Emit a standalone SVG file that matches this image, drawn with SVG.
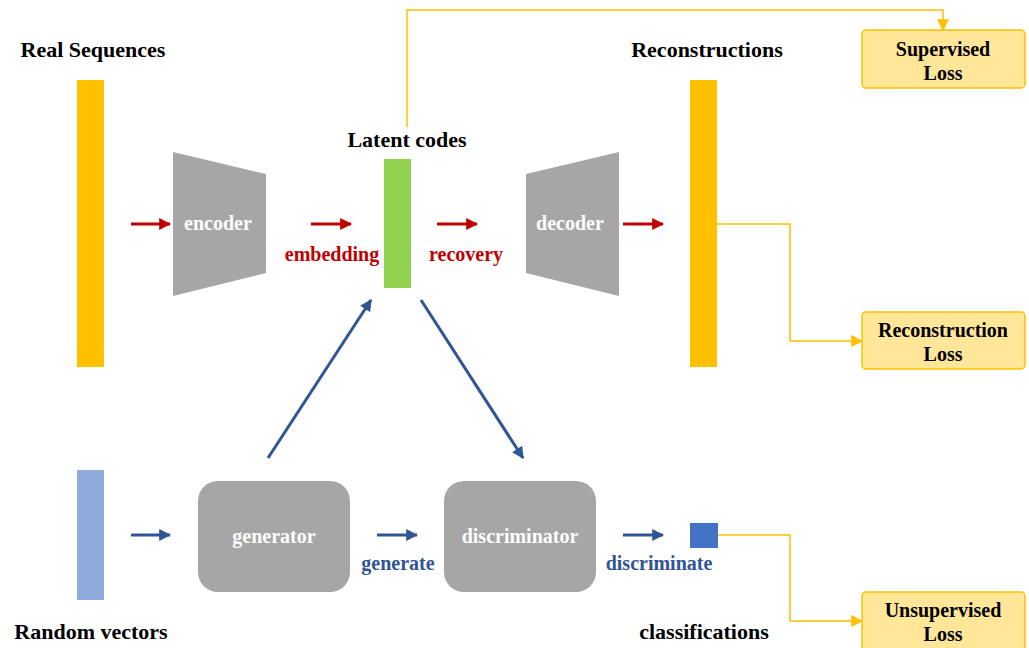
<svg xmlns="http://www.w3.org/2000/svg" width="1029" height="648" viewBox="0 0 1029 648">
<style>
text{font-family:"Liberation Serif","Times New Roman",serif;font-weight:bold;text-anchor:middle}
.title{font-size:22px;fill:#000}
.inner{font-size:20px;fill:#fff}
.red{font-size:20px;fill:#C00000}
.blue{font-size:20px;fill:#2F5597}
.loss{font-size:20px;fill:#000}
.ra{stroke:#C00000;stroke-width:3;fill:none}
.ba{stroke:#2F5597;stroke-width:3;fill:none}
.yl{stroke:#FFC000;stroke-width:1.5;fill:none}
.box{fill:#FFE699;stroke:#FFC000;stroke-width:1.5}
.gray{fill:#A6A6A6}
</style>
<defs>
<marker id="mr" viewBox="0 0 10 10" refX="9" refY="5" markerWidth="4" markerHeight="4" orient="auto" markerUnits="strokeWidth"><path d="M0,0 L10,5 L0,10 z" fill="#C00000"/></marker>
<marker id="mb" viewBox="0 0 10 10" refX="9" refY="5" markerWidth="4" markerHeight="4" orient="auto" markerUnits="strokeWidth"><path d="M0,0 L10,5 L0,10 z" fill="#2F5597"/></marker>
<marker id="my" viewBox="0 0 10 10" refX="9" refY="5" markerWidth="8" markerHeight="8" orient="auto" markerUnits="strokeWidth"><path d="M0,0 L10,5 L0,10 z" fill="#FFC000"/></marker>
</defs>
<rect width="1029" height="648" fill="#fff"/>

<g id="real-sequences">
<rect x="77" y="80" width="27" height="287" fill="#FFC000"/>
<text class="title" x="93" y="57">Real Sequences</text>
</g>
<g id="encoder">
<polygon class="gray" points="173,152 266,174 266,273 173,296"/>
<text class="inner" x="218" y="230">encoder</text>
</g>
<g id="latent-codes">
<rect x="384" y="159" width="27" height="129" fill="#92D050"/>
<text class="title" x="407" y="147">Latent codes</text>
</g>
<g id="decoder">
<polygon class="gray" points="526,174 619,152 619,296 526,273"/>
<text class="inner" x="570" y="230">decoder</text>
</g>
<g id="reconstructions">
<rect x="690" y="80" width="27" height="287" fill="#FFC000"/>
<text class="title" x="707" y="57">Reconstructions</text>
</g>
<g id="supervised-loss">
<rect class="box" x="862" y="30" width="163" height="58" rx="4"/>
<text class="loss" x="943" y="56">Supervised</text>
<text class="loss" x="943" y="80">Loss</text>
</g>
<g id="reconstruction-loss">
<rect class="box" x="862" y="312" width="163" height="57" rx="4"/>
<text class="loss" x="943" y="337">Reconstruction</text>
<text class="loss" x="943" y="361">Loss</text>
</g>
<g id="random-vectors">
<rect x="77" y="470" width="27" height="130" fill="#8FAADC"/>
<text class="title" x="91" y="639">Random vectors</text>
</g>
<g id="generator">
<rect class="gray" x="198" y="481" width="152" height="111" rx="20"/>
<text class="inner" x="274" y="543">generator</text>
</g>
<g id="discriminator">
<rect class="gray" x="444" y="481" width="152" height="111" rx="20"/>
<text class="inner" x="520" y="543">discriminator</text>
</g>
<g id="classifications">
<rect x="690" y="523" width="28" height="25" fill="#4472C4"/>
<text class="title" x="704" y="639">classifications</text>
</g>
<g id="unsupervised-loss">
<rect class="box" x="862" y="592" width="163" height="60" rx="4"/>
<text class="loss" x="943" y="617">Unsupervised</text>
<text class="loss" x="943" y="641">Loss</text>
</g>

<g id="connectors">
<line class="ra" x1="131" y1="224" x2="170" y2="224" marker-end="url(#mr)"/>
<line class="ra" x1="311" y1="224" x2="351" y2="224" marker-end="url(#mr)"/>
<line class="ra" x1="437" y1="224" x2="477" y2="224" marker-end="url(#mr)"/>
<line class="ra" x1="623" y1="224" x2="663" y2="224" marker-end="url(#mr)"/>
<text class="red" x="332" y="261">embedding</text>
<text class="red" x="466" y="261">recovery</text>
<line class="ba" x1="131" y1="535" x2="170" y2="535" marker-end="url(#mb)"/>
<line class="ba" x1="377" y1="535" x2="417" y2="535" marker-end="url(#mb)"/>
<line class="ba" x1="623" y1="535" x2="663" y2="535" marker-end="url(#mb)"/>
<text class="blue" x="398" y="570">generate</text>
<text class="blue" x="659" y="570">discriminate</text>
<line class="ba" x1="268" y1="458" x2="371" y2="300" marker-end="url(#mb)"/>
<line class="ba" x1="421" y1="300" x2="523" y2="458" marker-end="url(#mb)"/>
<polyline class="yl" points="407,127 407,10 943,10 943,30" marker-end="url(#my)"/>
<polyline class="yl" points="717,224 790,224 790,341 862,341" marker-end="url(#my)"/>
<polyline class="yl" points="718,535 790,535 790,621 862,621" marker-end="url(#my)"/>
</g>
</svg>
